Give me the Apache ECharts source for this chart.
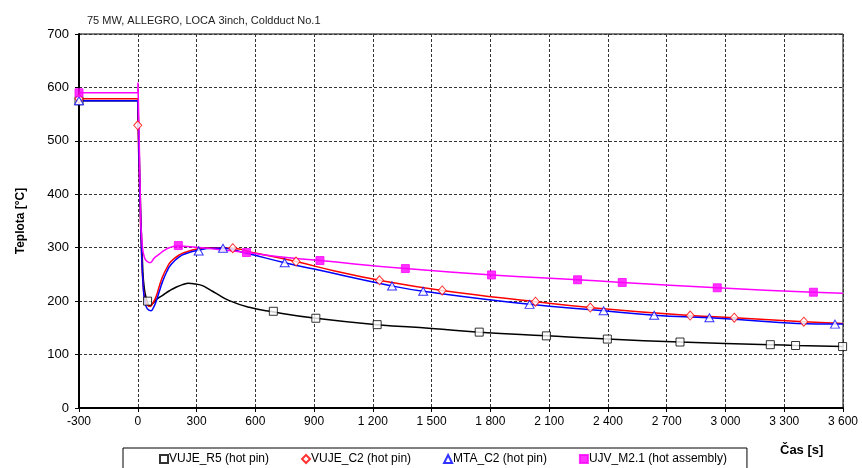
<!DOCTYPE html>
<html><head><meta charset="utf-8">
<script src="https://cdn.jsdelivr.net/npm/echarts@6/dist/echarts.min.js"></script>
<style>html,body{margin:0;padding:0;background:#fff}#c{width:862px;height:468px}</style>
</head><body><div id="c"></div>
<script>
var titleText = "75 MW, ALLEGRO, LOCA 3inch, Coldduct No.1";
var xName = "Čas [s]";
var yName = "Teplota [°C]";
var names = ["VUJE_R5 (hot pin)", "VUJE_C2 (hot pin)", "MTA_C2 (hot pin)", "UJV_M2.1 (hot assembly)"];

// curves [time s, temperature °C]
var curveR5 = [[-300,575],[0,575],[3,545],[8,470],[14,380],[20,310],[26,255],[33,225],[42,207],[50,198],[59,191],[75,195],[95,203],[127,211],[160,219],[195,226],[230,231],[259,233.5],[295,232],[330,229],[365,222],[398,215],[467,201],[569,188.5],[688,180],[909,168],[1222,156],[1500,149],[1743,142],[2086,135],[2397,129],[2768,123.5],[3229,118.5],[3358,117],[3600,115]];
var curveC2 = [[-300,579],[0,579],[1,529],[5,470],[10,400],[16,320],[22,260],[28,225],[36,205],[48,193],[63,190],[78,197],[93,208],[110,228],[127,246],[148,262],[169,274],[212,286.5],[255,293],[297,297],[380,300],[485,299],[600,290],[808,274],[1000,257],[1234,239],[1554,220],[2030,199],[2310,188],[2820,173],[3045,169],[3400,161.6],[3600,158]];
var curveMTA = [[-300,575],[0,575],[1,570],[5,490],[10,410],[16,330],[22,265],[28,225],[36,200],[48,186],[67,182],[80,188],[93,199],[110,218],[127,237],[148,255],[169,268],[212,283],[255,290],[297,294.5],[380,299],[435,299],[550,290],[750,272],[900,260],[1298,228.5],[1457,218.5],[2000,194],[2378,182],[2636,173.6],[2918,169],[3559,157],[3600,157]];
var curveUJV = [[-300,590],[0,590],[1,609],[4,560],[9,470],[16,340],[24,300],[33,283],[45,275],[62,272],[85,281],[110,288],[135,295],[161,300],[203,303],[297,301],[400,297],[555,291],[700,284],[930,276],[1366,261],[1806,249],[2245,240],[2473,235],[2958,225],[3449,216.7],[3600,214.8]];

// markers
var markR5 = [[-300,575],[50,200],[692,181],[909,168],[1222,156],[1743,142],[2086,135],[2397,129],[2768,123.5],[3229,118.5],[3358,117],[3598,115]];
var markC2 = [[-300,579],[0,529],[485,299],[808,274],[1234,239],[1554,220],[2030,199],[2310,188],[2820,173],[3045,169],[3400,161.6]];
var markMTA = [[-300,575],[311,294],[435,299],[750,272],[1298,228.5],[1457,218.5],[2000,194],[2378,182],[2636,173.6],[2918,169],[3559,157]];
var markUJV = [[-300,590],[207,304],[555,291],[930,276],[1366,261],[1806,249],[2245,240],[2473,235],[2958,225],[3449,216.7]];

var xMin = -300, xMax = 3600, xStep = 300;
var yMin = 0, yMax = 700, yStep = 100;

var FONT = "Liberation Sans, Arial, sans-serif";
var colors = ["#000000", "#ff0000", "#0000ff", "#ff00ff"];
var curves = [curveR5, curveC2, curveMTA, curveUJV];
var marks = [markR5, markC2, markMTA, markUJV];
var symbols = ["rect", "diamond", "triangle", "rect"];
var filled = [false, false, false, true];
var dropEnd = 30; // the sharp drop is drawn straight, the rest smoothed

function fmtX(v){
  var s = String(Math.abs(v)).replace(/\B(?=(\d{3})+(?!\d))/g, " ");
  return (v < 0 ? "-" : "") + s;
}

var series = [];
for (var i = 0; i < 4; i++) {
  var c = curves[i];
  var partA = c.filter(function(p){ return p[0] <= dropEnd; });
  var partB = c.slice(partA.length - 1);
  series.push({
    name: names[i] + " drop", type: "line", data: partA, smooth: false,
    showSymbol: false, symbol: "none", silent: true,
    lineStyle: { color: colors[i], width: 1.5 }, z: 2 + i
  });
  series.push({
    name: names[i] + " line", type: "line", data: partB, smooth: 0.5,
    showSymbol: false, symbol: "none", silent: true,
    lineStyle: { color: colors[i], width: 1.5 }, z: 2 + i
  });
}
for (var j = 0; j < 4; j++) {
  series.push({
    name: names[j], type: "scatter", data: marks[j], symbol: symbols[j],
    symbolSize: symbols[j] === "diamond" ? [8, 9] : (symbols[j] === "triangle" ? [9, 8] : 8),
    itemStyle: { color: filled[j] ? colors[j] : "#ffffff", borderColor: colors[j], borderWidth: 1 },
    z: 10 + j
  });
}

var chart = echarts.init(document.getElementById("c"), null, { renderer: "canvas" });
chart.setOption({
  animation: false,
  backgroundColor: "#ffffff",
  title: { text: titleText, left: 82, top: 10, textStyle: { fontFamily: FONT, fontSize: 11, fontWeight: "normal", color: "#222" } },
  grid: { left: 79, right: 19, top: 34, bottom: 60, show: true, borderColor: "#000", borderWidth: 1 },
  legend: {
    data: names, left: 123, top: 448,
    borderColor: "#000", borderWidth: 1, padding: [5, 20, 12, 36], itemGap: 32,
    itemWidth: 8, itemHeight: 8,
    textStyle: { fontFamily: FONT, fontSize: 12, color: "#000", padding: [0, 0, 0, -4] }
  },
  graphic: [{ type: "text", left: 780, top: 444, style: { text: xName, font: "bold 13px " + FONT, fill: "#000" } }],
  xAxis: {
    type: "value", min: xMin, max: xMax, interval: xStep,
    axisLine: { onZero: false, lineStyle: { color: "#000", width: 2 } },
    axisTick: { show: true, inside: false, length: 4, lineStyle: { color: "#000" } },
    axisLabel: { fontFamily: FONT, fontSize: 12, color: "#000", margin: 8, formatter: fmtX },
    splitLine: { show: true, lineStyle: { color: "#333", type: [3, 2], width: 1 } }
  },
  yAxis: {
    type: "value", min: yMin, max: yMax, interval: yStep,
    name: yName, nameLocation: "middle", nameGap: 52,
    nameTextStyle: { fontFamily: FONT, fontSize: 12, fontWeight: "bold", color: "#000" },
    axisLine: { show: true, onZero: false, lineStyle: { color: "#000", width: 2 } },
    axisTick: { show: true, inside: false, length: 4, lineStyle: { color: "#000" } },
    axisLabel: { fontFamily: FONT, fontSize: 13, color: "#000", margin: 10 },
    splitLine: { show: true, lineStyle: { color: "#333", type: [3, 2], width: 1 } }
  },
  series: series
});
</script></body></html>
